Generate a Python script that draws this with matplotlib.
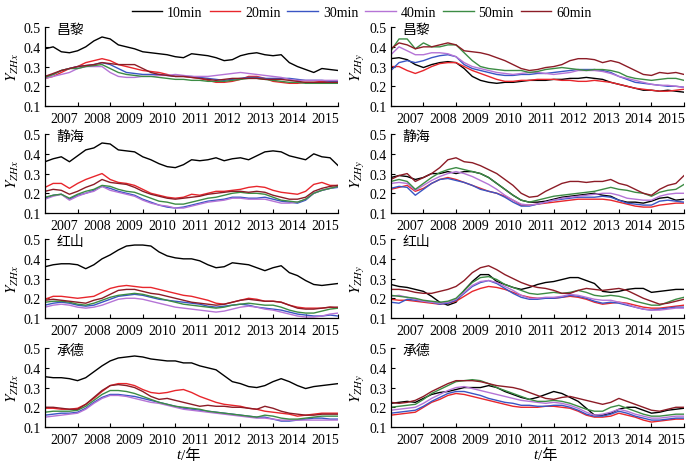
import numpy as np
import matplotlib
matplotlib.use("Agg")
import matplotlib.pyplot as plt

plt.rcParams['font.family'] = ['Liberation Serif', 'Noto Sans CJK SC']
plt.rcParams['mathtext.fontset'] = 'stix'

# --- data (one value per quarter year) ---
t = np.linspace(2006.4, 2015.4, 37)
years = [2007, 2008, 2009, 2010, 2011, 2012, 2013, 2014, 2015]
intervals = ['10min', '20min', '30min', '40min', '50min', '60min']
colors = ['#000000', '#e8262c', '#3a55c4', '#b574d6', '#3c8c44', '#8c1c26']
stations = ['昌黎', '静海', '红山', '承德']

# 昌黎 Y_ZHx
changli_x = [
    [0.39, 0.40, 0.375, 0.37, 0.38, 0.40, 0.43, 0.45, 0.44, 0.41, 0.40, 0.39, 0.375, 0.37, 0.365, 0.36, 0.35, 0.345, 0.365,
     0.36, 0.355, 0.345, 0.33, 0.335, 0.355, 0.365, 0.37, 0.36, 0.355, 0.36, 0.32, 0.30, 0.285, 0.27, 0.29, 0.285, 0.28],
    [0.24, 0.25, 0.27, 0.29, 0.30, 0.32, 0.33, 0.34, 0.33, 0.31, 0.30, 0.29, 0.28, 0.275, 0.27, 0.26, 0.25, 0.25, 0.245,
     0.24, 0.23, 0.22, 0.22, 0.225, 0.235, 0.25, 0.25, 0.24, 0.225, 0.22, 0.215, 0.215, 0.22, 0.22, 0.225, 0.22, 0.225],
    [0.25, 0.26, 0.28, 0.29, 0.30, 0.305, 0.31, 0.32, 0.31, 0.29, 0.27, 0.265, 0.26, 0.26, 0.26, 0.255, 0.25, 0.25, 0.25,
     0.245, 0.24, 0.235, 0.23, 0.235, 0.24, 0.245, 0.245, 0.24, 0.24, 0.24, 0.24, 0.235, 0.23, 0.23, 0.23, 0.225, 0.225],
    [0.24, 0.25, 0.26, 0.27, 0.29, 0.30, 0.30, 0.30, 0.27, 0.25, 0.245, 0.245, 0.25, 0.25, 0.255, 0.255, 0.26, 0.255, 0.25,
     0.25, 0.25, 0.255, 0.26, 0.265, 0.27, 0.265, 0.26, 0.255, 0.25, 0.245, 0.235, 0.23, 0.23, 0.23, 0.23, 0.23, 0.23],
    [0.245, 0.26, 0.28, 0.29, 0.29, 0.30, 0.305, 0.31, 0.29, 0.27, 0.26, 0.255, 0.25, 0.25, 0.245, 0.24, 0.235, 0.235, 0.23,
     0.23, 0.225, 0.225, 0.225, 0.23, 0.235, 0.24, 0.24, 0.235, 0.23, 0.225, 0.22, 0.22, 0.215, 0.215, 0.215, 0.215, 0.215],
    [0.25, 0.265, 0.28, 0.29, 0.30, 0.305, 0.31, 0.32, 0.315, 0.31, 0.31, 0.31, 0.29, 0.27, 0.26, 0.255, 0.25, 0.25, 0.245,
     0.24, 0.235, 0.23, 0.235, 0.24, 0.24, 0.24, 0.24, 0.235, 0.235, 0.235, 0.23, 0.225, 0.22, 0.22, 0.22, 0.22, 0.22],
]

# 昌黎 Y_ZHy
changli_y = [
    [0.34, 0.345, 0.335, 0.31, 0.295, 0.31, 0.32, 0.325, 0.32, 0.29, 0.25, 0.23, 0.22, 0.215, 0.22, 0.22, 0.225, 0.23, 0.23,
     0.23, 0.235, 0.235, 0.24, 0.24, 0.245, 0.24, 0.235, 0.22, 0.21, 0.20, 0.19, 0.18, 0.18, 0.175, 0.18, 0.175, 0.17],
    [0.30, 0.30, 0.28, 0.265, 0.28, 0.30, 0.315, 0.32, 0.32, 0.30, 0.28, 0.265, 0.25, 0.235, 0.225, 0.225, 0.23, 0.23, 0.235,
     0.235, 0.235, 0.23, 0.23, 0.225, 0.225, 0.23, 0.225, 0.22, 0.21, 0.20, 0.19, 0.185, 0.18, 0.175, 0.175, 0.18, 0.185],
    [0.28, 0.32, 0.33, 0.32, 0.33, 0.345, 0.355, 0.36, 0.35, 0.31, 0.29, 0.28, 0.27, 0.26, 0.255, 0.255, 0.26, 0.26, 0.265,
     0.265, 0.27, 0.275, 0.28, 0.285, 0.285, 0.285, 0.28, 0.27, 0.25, 0.235, 0.22, 0.215, 0.21, 0.205, 0.20, 0.20, 0.195],
    [0.36, 0.40, 0.38, 0.36, 0.36, 0.37, 0.37, 0.365, 0.35, 0.32, 0.30, 0.29, 0.28, 0.27, 0.265, 0.26, 0.265, 0.27, 0.27,
     0.265, 0.26, 0.265, 0.27, 0.28, 0.28, 0.28, 0.275, 0.265, 0.25, 0.24, 0.23, 0.22, 0.21, 0.205, 0.205, 0.20, 0.195],
    [0.38, 0.44, 0.44, 0.39, 0.42, 0.40, 0.40, 0.41, 0.41, 0.37, 0.33, 0.30, 0.29, 0.285, 0.28, 0.28, 0.28, 0.27, 0.275,
     0.285, 0.29, 0.295, 0.29, 0.285, 0.28, 0.285, 0.285, 0.28, 0.27, 0.25, 0.24, 0.235, 0.23, 0.235, 0.24, 0.24, 0.23],
    [0.39, 0.42, 0.41, 0.39, 0.40, 0.40, 0.41, 0.42, 0.41, 0.38, 0.375, 0.37, 0.36, 0.345, 0.33, 0.31, 0.29, 0.28, 0.285,
     0.295, 0.30, 0.31, 0.33, 0.34, 0.34, 0.335, 0.32, 0.33, 0.32, 0.30, 0.28, 0.26, 0.255, 0.27, 0.265, 0.27, 0.26],
]

# 静海 Y_ZHx
jinghai_x = [
    [0.36, 0.375, 0.385, 0.36, 0.39, 0.42, 0.43, 0.455, 0.45, 0.42, 0.415, 0.41, 0.385, 0.37, 0.35, 0.335, 0.33, 0.345, 0.37,
     0.365, 0.37, 0.38, 0.365, 0.375, 0.38, 0.37, 0.39, 0.41, 0.415, 0.41, 0.39, 0.38, 0.37, 0.40, 0.385, 0.38, 0.34],
    [0.23, 0.25, 0.25, 0.225, 0.25, 0.27, 0.285, 0.30, 0.27, 0.255, 0.25, 0.24, 0.22, 0.20, 0.19, 0.18, 0.175, 0.18, 0.195,
     0.19, 0.20, 0.21, 0.21, 0.215, 0.22, 0.23, 0.235, 0.23, 0.215, 0.205, 0.20, 0.195, 0.21, 0.245, 0.255, 0.24, 0.24],
    [0.175, 0.19, 0.195, 0.17, 0.19, 0.20, 0.215, 0.235, 0.225, 0.21, 0.20, 0.19, 0.17, 0.155, 0.14, 0.13, 0.125, 0.13, 0.14,
     0.15, 0.16, 0.165, 0.17, 0.18, 0.18, 0.175, 0.175, 0.18, 0.17, 0.16, 0.155, 0.15, 0.165, 0.20, 0.215, 0.225, 0.23],
    [0.17, 0.185, 0.195, 0.165, 0.185, 0.20, 0.21, 0.235, 0.215, 0.205, 0.195, 0.185, 0.165, 0.15, 0.14, 0.135, 0.125, 0.125,
     0.135, 0.145, 0.155, 0.16, 0.165, 0.175, 0.175, 0.17, 0.17, 0.17, 0.16, 0.15, 0.15, 0.155, 0.17, 0.20, 0.215, 0.225, 0.235],
    [0.18, 0.19, 0.195, 0.175, 0.195, 0.21, 0.22, 0.24, 0.235, 0.22, 0.21, 0.205, 0.19, 0.175, 0.16, 0.155, 0.145, 0.145, 0.155,
     0.165, 0.175, 0.18, 0.19, 0.20, 0.205, 0.20, 0.20, 0.195, 0.18, 0.165, 0.16, 0.155, 0.17, 0.20, 0.215, 0.225, 0.235],
    [0.21, 0.22, 0.215, 0.195, 0.21, 0.23, 0.245, 0.27, 0.255, 0.25, 0.245, 0.23, 0.21, 0.195, 0.185, 0.175, 0.17, 0.175, 0.18,
     0.185, 0.195, 0.20, 0.205, 0.21, 0.21, 0.205, 0.21, 0.205, 0.19, 0.18, 0.17, 0.17, 0.18, 0.21, 0.225, 0.235, 0.24],
]

# 静海 Y_ZHy
jinghai_y = [
    [0.28, 0.29, 0.285, 0.27, 0.28, 0.30, 0.30, 0.31, 0.30, 0.31, 0.31, 0.30, 0.28, 0.25, 0.22, 0.19, 0.165, 0.155, 0.155,
     0.16, 0.17, 0.18, 0.185, 0.19, 0.195, 0.20, 0.19, 0.185, 0.165, 0.155, 0.155, 0.15, 0.16, 0.175, 0.18, 0.165, 0.17],
    [0.22, 0.23, 0.24, 0.21, 0.225, 0.25, 0.27, 0.28, 0.27, 0.255, 0.24, 0.225, 0.21, 0.20, 0.185, 0.165, 0.14, 0.14, 0.145,
     0.15, 0.155, 0.16, 0.165, 0.17, 0.17, 0.17, 0.17, 0.165, 0.155, 0.145, 0.135, 0.13, 0.13, 0.14, 0.145, 0.15, 0.15],
    [0.225, 0.235, 0.23, 0.19, 0.22, 0.25, 0.27, 0.275, 0.265, 0.255, 0.24, 0.22, 0.21, 0.20, 0.18, 0.155, 0.135, 0.135, 0.145,
     0.155, 0.165, 0.17, 0.175, 0.18, 0.18, 0.18, 0.185, 0.18, 0.165, 0.15, 0.145, 0.14, 0.14, 0.16, 0.165, 0.16, 0.155],
    [0.25, 0.255, 0.25, 0.215, 0.24, 0.265, 0.285, 0.30, 0.31, 0.30, 0.285, 0.265, 0.245, 0.22, 0.19, 0.165, 0.145, 0.14, 0.145,
     0.155, 0.165, 0.175, 0.18, 0.185, 0.19, 0.195, 0.20, 0.20, 0.19, 0.175, 0.17, 0.165, 0.165, 0.185, 0.195, 0.20, 0.20],
    [0.26, 0.27, 0.26, 0.22, 0.25, 0.28, 0.305, 0.32, 0.33, 0.32, 0.31, 0.30, 0.28, 0.25, 0.22, 0.19, 0.165, 0.155, 0.165,
     0.175, 0.185, 0.19, 0.195, 0.20, 0.205, 0.21, 0.22, 0.23, 0.22, 0.215, 0.205, 0.20, 0.185, 0.205, 0.215, 0.22, 0.245],
    [0.27, 0.29, 0.30, 0.26, 0.28, 0.30, 0.33, 0.37, 0.38, 0.36, 0.355, 0.34, 0.32, 0.30, 0.27, 0.24, 0.20, 0.18, 0.185,
     0.21, 0.23, 0.25, 0.26, 0.26, 0.255, 0.26, 0.26, 0.27, 0.25, 0.24, 0.22, 0.20, 0.19, 0.22, 0.24, 0.25, 0.29],
]

# 红山 Y_ZHx
hongshan_x = [
    [0.36, 0.37, 0.375, 0.375, 0.37, 0.35, 0.37, 0.40, 0.42, 0.445, 0.465, 0.47, 0.47, 0.465, 0.435, 0.415, 0.405, 0.40, 0.40,
     0.39, 0.37, 0.355, 0.36, 0.38, 0.375, 0.37, 0.355, 0.34, 0.355, 0.365, 0.33, 0.315, 0.29, 0.27, 0.265, 0.27, 0.275],
    [0.195, 0.21, 0.21, 0.205, 0.20, 0.205, 0.21, 0.23, 0.25, 0.26, 0.265, 0.26, 0.255, 0.255, 0.245, 0.235, 0.225, 0.215, 0.21,
     0.20, 0.19, 0.175, 0.17, 0.18, 0.19, 0.20, 0.195, 0.185, 0.185, 0.18, 0.165, 0.155, 0.15, 0.15, 0.15, 0.155, 0.15],
    [0.165, 0.175, 0.18, 0.175, 0.165, 0.16, 0.165, 0.18, 0.195, 0.21, 0.215, 0.22, 0.215, 0.205, 0.195, 0.19, 0.185, 0.18, 0.175,
     0.17, 0.16, 0.155, 0.16, 0.165, 0.17, 0.165, 0.155, 0.15, 0.145, 0.14, 0.13, 0.12, 0.115, 0.11, 0.11, 0.115, 0.11],
    [0.155, 0.165, 0.17, 0.165, 0.155, 0.15, 0.155, 0.165, 0.18, 0.195, 0.20, 0.20, 0.195, 0.185, 0.175, 0.165, 0.155, 0.15, 0.145,
     0.14, 0.135, 0.13, 0.135, 0.145, 0.155, 0.16, 0.155, 0.145, 0.14, 0.13, 0.12, 0.11, 0.105, 0.105, 0.11, 0.12, 0.125],
    [0.18, 0.185, 0.185, 0.18, 0.17, 0.165, 0.175, 0.19, 0.205, 0.215, 0.22, 0.225, 0.22, 0.21, 0.20, 0.19, 0.18, 0.17, 0.165,
     0.16, 0.155, 0.15, 0.155, 0.165, 0.17, 0.175, 0.17, 0.165, 0.165, 0.155, 0.14, 0.13, 0.125, 0.125, 0.135, 0.145, 0.15],
    [0.19, 0.195, 0.19, 0.185, 0.18, 0.175, 0.19, 0.20, 0.22, 0.24, 0.245, 0.245, 0.235, 0.225, 0.22, 0.21, 0.20, 0.19, 0.18,
     0.175, 0.17, 0.165, 0.17, 0.18, 0.19, 0.195, 0.19, 0.185, 0.185, 0.18, 0.165, 0.15, 0.145, 0.145, 0.15, 0.155, 0.155],
]

# 红山 Y_ZHy
hongshan_y = [
    [0.27, 0.26, 0.255, 0.245, 0.235, 0.21, 0.18, 0.165, 0.18, 0.24, 0.285, 0.32, 0.32, 0.285, 0.27, 0.255, 0.245, 0.255, 0.27,
     0.28, 0.285, 0.295, 0.305, 0.305, 0.29, 0.275, 0.235, 0.23, 0.235, 0.245, 0.25, 0.25, 0.23, 0.235, 0.24, 0.245, 0.245],
    [0.195, 0.19, 0.19, 0.185, 0.18, 0.175, 0.17, 0.175, 0.185, 0.21, 0.235, 0.25, 0.26, 0.255, 0.245, 0.23, 0.215, 0.205, 0.20,
     0.20, 0.20, 0.205, 0.21, 0.205, 0.195, 0.18, 0.17, 0.175, 0.18, 0.175, 0.165, 0.155, 0.15, 0.15, 0.155, 0.16, 0.165],
    [0.18, 0.175, 0.195, 0.19, 0.185, 0.18, 0.17, 0.175, 0.19, 0.225, 0.26, 0.28, 0.29, 0.275, 0.25, 0.225, 0.205, 0.195, 0.195,
     0.20, 0.20, 0.205, 0.215, 0.21, 0.20, 0.185, 0.175, 0.18, 0.175, 0.165, 0.155, 0.145, 0.14, 0.145, 0.15, 0.155, 0.155],
    [0.21, 0.215, 0.205, 0.195, 0.185, 0.18, 0.175, 0.18, 0.195, 0.23, 0.265, 0.285, 0.29, 0.28, 0.26, 0.24, 0.215, 0.20, 0.20,
     0.205, 0.205, 0.21, 0.22, 0.215, 0.205, 0.195, 0.19, 0.19, 0.18, 0.17, 0.155, 0.145, 0.14, 0.14, 0.145, 0.15, 0.15],
    [0.215, 0.21, 0.205, 0.20, 0.19, 0.185, 0.18, 0.185, 0.20, 0.24, 0.28, 0.305, 0.31, 0.295, 0.27, 0.255, 0.24, 0.225, 0.22,
     0.225, 0.23, 0.225, 0.23, 0.24, 0.23, 0.215, 0.21, 0.215, 0.21, 0.20, 0.185, 0.175, 0.165, 0.165, 0.18, 0.195, 0.205],
    [0.245, 0.245, 0.24, 0.23, 0.225, 0.225, 0.235, 0.245, 0.26, 0.29, 0.33, 0.355, 0.365, 0.345, 0.32, 0.30, 0.28, 0.265, 0.255,
     0.25, 0.24, 0.225, 0.225, 0.24, 0.25, 0.245, 0.24, 0.245, 0.25, 0.24, 0.22, 0.20, 0.185, 0.17, 0.175, 0.185, 0.195],
]

# 承德 Y_ZHx
chengde_x = [
    [0.355, 0.35, 0.35, 0.345, 0.335, 0.35, 0.38, 0.41, 0.435, 0.45, 0.455, 0.46, 0.455, 0.445, 0.44, 0.435, 0.435, 0.425, 0.425,
     0.41, 0.40, 0.39, 0.36, 0.33, 0.32, 0.305, 0.30, 0.31, 0.33, 0.345, 0.33, 0.31, 0.295, 0.305, 0.31, 0.315, 0.32],
    [0.195, 0.195, 0.19, 0.19, 0.195, 0.215, 0.245, 0.28, 0.31, 0.32, 0.32, 0.31, 0.29, 0.275, 0.27, 0.275, 0.285, 0.29, 0.275,
     0.255, 0.24, 0.225, 0.215, 0.21, 0.205, 0.195, 0.19, 0.18, 0.175, 0.17, 0.165, 0.155, 0.16, 0.165, 0.17, 0.17, 0.17],
    [0.16, 0.165, 0.17, 0.17, 0.175, 0.195, 0.225, 0.25, 0.265, 0.265, 0.26, 0.255, 0.245, 0.235, 0.225, 0.215, 0.205, 0.195, 0.19,
     0.185, 0.18, 0.175, 0.17, 0.165, 0.16, 0.155, 0.15, 0.15, 0.14, 0.13, 0.13, 0.135, 0.14, 0.145, 0.145, 0.14, 0.14],
    [0.15, 0.155, 0.16, 0.165, 0.17, 0.19, 0.22, 0.245, 0.26, 0.26, 0.255, 0.245, 0.235, 0.225, 0.22, 0.21, 0.20, 0.19, 0.185,
     0.18, 0.175, 0.17, 0.165, 0.16, 0.155, 0.15, 0.145, 0.145, 0.14, 0.135, 0.135, 0.135, 0.135, 0.135, 0.135, 0.135, 0.135],
    [0.175, 0.18, 0.18, 0.18, 0.185, 0.205, 0.235, 0.265, 0.285, 0.285, 0.28, 0.27, 0.255, 0.24, 0.225, 0.215, 0.205, 0.20, 0.195,
     0.19, 0.18, 0.175, 0.17, 0.165, 0.16, 0.155, 0.15, 0.16, 0.155, 0.145, 0.14, 0.14, 0.145, 0.15, 0.155, 0.155, 0.155],
    [0.20, 0.20, 0.195, 0.19, 0.19, 0.215, 0.25, 0.285, 0.31, 0.315, 0.31, 0.30, 0.28, 0.255, 0.24, 0.245, 0.235, 0.225, 0.215,
     0.205, 0.21, 0.205, 0.205, 0.20, 0.20, 0.195, 0.19, 0.205, 0.195, 0.18, 0.17, 0.165, 0.16, 0.16, 0.165, 0.165, 0.165],
]

# 承德 Y_ZHy
chengde_y = [
    [0.22, 0.225, 0.23, 0.225, 0.245, 0.265, 0.275, 0.28, 0.29, 0.30, 0.30, 0.30, 0.31, 0.30, 0.28, 0.265, 0.25, 0.24, 0.25,
     0.265, 0.28, 0.27, 0.25, 0.23, 0.195, 0.16, 0.16, 0.17, 0.19, 0.20, 0.20, 0.185, 0.17, 0.175, 0.185, 0.19, 0.195],
    [0.16, 0.165, 0.17, 0.175, 0.20, 0.225, 0.24, 0.26, 0.27, 0.265, 0.255, 0.245, 0.235, 0.225, 0.215, 0.205, 0.20, 0.20, 0.20,
     0.205, 0.205, 0.20, 0.195, 0.18, 0.16, 0.15, 0.15, 0.155, 0.17, 0.16, 0.15, 0.135, 0.125, 0.13, 0.135, 0.14, 0.14],
    [0.17, 0.175, 0.18, 0.185, 0.205, 0.23, 0.25, 0.27, 0.28, 0.28, 0.27, 0.26, 0.245, 0.235, 0.225, 0.22, 0.21, 0.21, 0.205,
     0.205, 0.21, 0.21, 0.20, 0.185, 0.165, 0.155, 0.155, 0.165, 0.18, 0.17, 0.155, 0.145, 0.135, 0.135, 0.14, 0.145, 0.145],
    [0.185, 0.19, 0.195, 0.20, 0.22, 0.245, 0.265, 0.285, 0.30, 0.305, 0.295, 0.285, 0.275, 0.265, 0.255, 0.245, 0.235, 0.23, 0.225,
     0.22, 0.225, 0.22, 0.21, 0.195, 0.175, 0.16, 0.165, 0.175, 0.19, 0.18, 0.165, 0.155, 0.145, 0.145, 0.15, 0.155, 0.155],
    [0.20, 0.205, 0.21, 0.215, 0.24, 0.27, 0.29, 0.31, 0.33, 0.335, 0.34, 0.335, 0.32, 0.30, 0.285, 0.27, 0.255, 0.24, 0.23,
     0.23, 0.235, 0.23, 0.22, 0.205, 0.19, 0.18, 0.18, 0.20, 0.21, 0.195, 0.18, 0.165, 0.155, 0.155, 0.16, 0.165, 0.165],
    [0.225, 0.22, 0.225, 0.235, 0.255, 0.28, 0.30, 0.32, 0.335, 0.335, 0.335, 0.33, 0.32, 0.31, 0.305, 0.30, 0.29, 0.275, 0.26,
     0.245, 0.24, 0.25, 0.255, 0.245, 0.235, 0.225, 0.215, 0.225, 0.245, 0.23, 0.215, 0.20, 0.185, 0.18, 0.19, 0.20, 0.20],
]

panels_x = [changli_x, jinghai_x, hongshan_x, chengde_x]
panels_y = [changli_y, jinghai_y, hongshan_y, chengde_y]

# --- layout ---
fig = plt.figure(figsize=(6.98, 4.64), dpi=100)
col_left = [0.0645, 0.560]
col_width = 0.420
row_bottom = [0.7694, 0.5388, 0.3125, 0.0776]
row_height = 0.170
ylabels = [r'$Y_{ZHx}$', r'$Y_{ZHy}$']

for r in range(4):
    for c, panel in enumerate([panels_x[r], panels_y[r]]):
        ax = fig.add_axes([col_left[c], row_bottom[r], col_width, row_height])
        for series, color, name in zip(panel, colors, intervals):
            ax.plot(t, series, color=color, lw=1.0, label=name)
        ax.set_xlim(2006.4, 2015.4)
        ax.set_ylim(0.1, 0.5)
        ax.set_yticks([0.1, 0.2, 0.3, 0.4, 0.5])
        ax.set_yticklabels(['0.1', '0.2', '0.3', '0.4', '0.5'])
        ax.set_xticks(years)
        ax.set_xticklabels([str(y) for y in years])
        ax.set_xticks([y + 0.4 for y in years], minor=True)
        ax.tick_params(axis='x', which='major', length=0, pad=4, labelsize=10)
        ax.tick_params(axis='x', which='minor', direction='in', length=3, width=0.8)
        ax.tick_params(axis='y', direction='in', length=3, width=0.8, pad=3, labelsize=10)
        for side in ['top', 'right']:
            ax.spines[side].set_visible(False)
        for side in ['left', 'bottom']:
            ax.spines[side].set_linewidth(0.9)
        ax.text(0.04, 0.98, stations[r], transform=ax.transAxes, ha='left', va='center',
                fontsize=10, family=['Noto Sans CJK SC'])
        ax.set_ylabel(ylabels[c], fontsize=11, labelpad=2)
        if r == 0 and c == 0:
            handles, labels = ax.get_legend_handles_labels()

# x axis title "t/年" under each column
for xc in [0.258, 0.770]:
    fig.text(xc, 0.018, 't', fontsize=11, style='italic', family=['Liberation Serif'],
             ha='right', va='center')
    fig.text(xc + 0.001, 0.018, '/年', fontsize=11, family=['Liberation Serif', 'Noto Sans CJK SC'],
             ha='left', va='center')

fig.legend(handles, labels, loc='upper center', bbox_to_anchor=(0.518, 1.012), ncol=6,
           frameon=False, handlelength=2.2, handletextpad=0.35, columnspacing=0.5, fontsize=10)

fig.savefig('out.png', dpi=100)
